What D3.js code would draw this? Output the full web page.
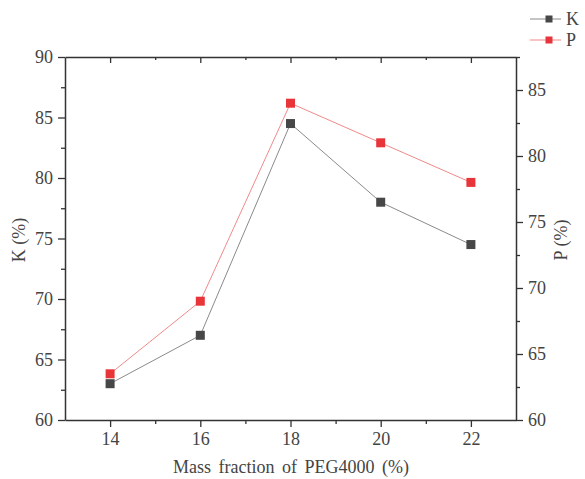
<!DOCTYPE html>
<html><head><meta charset="utf-8">
<script src="https://cdn.jsdelivr.net/npm/d3@7"></script>
<style>body{margin:0;background:#fff}svg{display:block}text{font-family:"Liberation Serif","Times New Roman",serif}</style>
</head><body>
<script>
const xs = [14, 16, 18, 20, 22];
const kValues = [63, 67, 84.5, 78, 74.5];
const pValues = [63.5, 69, 84, 81, 78];
const xTicks = [14, 16, 18, 20, 22];
const kTicks = [60, 65, 70, 75, 80, 85, 90];
const pTicks = [60, 65, 70, 75, 80, 85];

const W = 585, H = 479;
const L = 65, R = 516, T = 57, B = 420;
const svg = d3.select("body").append("svg").attr("width", W).attr("height", H);
const x = d3.scaleLinear().domain([13, 23]).range([L, R]);
const yK = d3.scaleLinear().domain([60, 90]).range([B, T]);
const yP = d3.scaleLinear().domain([60, 87.5]).range([B, T]);
const axisColor = "#333", textColor = "#444", fs = 18;

function styleAxis(g) {
  g.select(".domain").attr("stroke", axisColor).attr("stroke-width", 1.5);
  g.selectAll(".tick line").attr("stroke", axisColor).attr("stroke-width", 1.3);
  g.selectAll(".tick text").attr("fill", textColor).attr("font-size", fs);
}
function minor(g) {
  g.select(".domain").remove();
  g.selectAll("line").attr("stroke", axisColor).attr("stroke-width", 1.3);
}
// bottom
const xb = svg.append("g").attr("transform", `translate(0,${B})`)
  .call(d3.axisBottom(x).tickValues(xTicks).tickSize(7).tickSizeOuter(0).tickPadding(5));
styleAxis(xb);
svg.append("g").attr("transform", `translate(0,${B})`)
  .call(d3.axisBottom(x).tickValues([15,17,19,21]).tickSize(4).tickSizeOuter(0).tickFormat("")).call(minor);
// top
svg.append("g").attr("transform", `translate(0,${T})`)
  .call(d3.axisBottom(x).tickValues(xTicks).tickSize(6).tickSizeOuter(0).tickFormat(""))
  .call(g => { g.select(".domain").attr("stroke", axisColor).attr("stroke-width", 1.5); g.selectAll("line").attr("stroke", axisColor).attr("stroke-width", 1.3); });
svg.append("g").attr("transform", `translate(0,${T})`)
  .call(d3.axisBottom(x).tickValues([15,17,19,21]).tickSize(3).tickSizeOuter(0).tickFormat("")).call(minor);
// left
const yl = svg.append("g").attr("transform", `translate(${L},0)`)
  .call(d3.axisLeft(yK).tickValues(kTicks).tickSize(7).tickSizeOuter(0).tickPadding(5));
styleAxis(yl);
svg.append("g").attr("transform", `translate(${L},0)`)
  .call(d3.axisLeft(yK).tickValues([62.5,67.5,72.5,77.5,82.5,87.5]).tickSize(4).tickSizeOuter(0).tickFormat("")).call(minor);
// right
const yr = svg.append("g").attr("transform", `translate(${R},0)`)
  .call(d3.axisRight(yP).tickValues(pTicks).tickSize(7).tickSizeOuter(0).tickPadding(5));
styleAxis(yr);
svg.append("g").attr("transform", `translate(${R},0)`)
  .call(d3.axisRight(yP).tickValues([62.5,67.5,72.5,77.5,82.5,87.5]).tickSize(4).tickSizeOuter(0).tickFormat("")).call(minor);

// axis titles
svg.append("text").attr("x", 291).attr("y", 473).attr("text-anchor", "middle").attr("word-spacing", 3)
  .attr("font-size", fs).attr("fill", textColor).text("Mass fraction of PEG4000 (%)");
svg.append("text").attr("transform", `translate(25,240) rotate(-90)`).attr("text-anchor", "middle")
  .attr("font-size", fs).attr("fill", textColor).text("K (%)");
svg.append("text").attr("transform", `translate(567,240) rotate(-90)`).attr("text-anchor", "middle")
  .attr("font-size", fs).attr("fill", textColor).text("P (%)");

const series = [
  { name: "K", vals: kValues, y: yK, line: "#8a8a8a", fill: "#474747" },
  { name: "P", vals: pValues, y: yP, line: "#f08a8a", fill: "#e8353a" }
];
series.forEach(s => {
  const pts = xs.map((d, i) => [x(d), s.y(s.vals[i])]);
  svg.append("path").attr("d", d3.line()(pts)).attr("fill", "none").attr("stroke", s.line).attr("stroke-width", 1);
  svg.selectAll(null).data(pts).enter().append("rect")
    .attr("x", d => d[0] - 4.5).attr("y", d => d[1] - 4.5).attr("width", 9).attr("height", 9).attr("fill", s.fill);
});
// legend
series.forEach((s, i) => {
  const ly = 19 + i * 21;
  svg.append("line").attr("x1", 530).attr("x2", 561).attr("y1", ly).attr("y2", ly).attr("stroke", s.line).attr("stroke-width", 1);
  svg.append("rect").attr("x", 545.5).attr("y", ly - 3.5).attr("width", 7).attr("height", 7).attr("fill", s.fill);
  svg.append("text").attr("x", 566).attr("y", ly + 6).attr("font-size", fs).attr("fill", textColor).text(s.name);
});
</script>
</body></html>
